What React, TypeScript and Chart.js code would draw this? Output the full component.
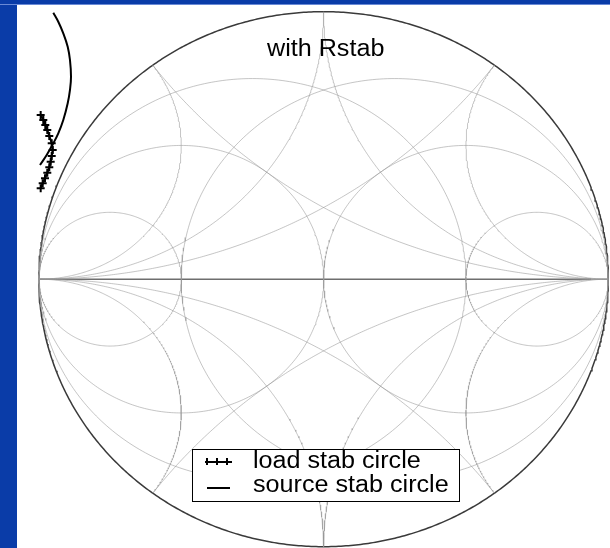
import React, { useEffect, useRef } from "react";
import { Chart, registerables } from "chart.js";

Chart.register(...registerables);

// Smith chart grid values (impedance + admittance overlay)
const resistanceValues = [1 / 3, 1, 3];
const reactanceValues = [0.5, 1, 2];
const conductanceValues = [1 / 3, 1, 3];
const susceptanceValues = [0.5, 1, 2];

// Source stability circle (reflection-coefficient plane), solid line
const sourceStabRe = [-0.9494, -0.9319, -0.9143, -0.8988, -0.8908, -0.8872, -0.8908, -0.8988, -0.9143, -0.9319, -0.9494, -0.9726, -0.9961];
const sourceStabIm = [0.9963, 0.9626, 0.9193, 0.8692, 0.8194, 0.757, 0.7073, 0.6576, 0.5951, 0.5454, 0.508, 0.4643, 0.4269];

// Load stability circle, drawn with "+" markers
const loadStabRe = [-0.9937, -0.9845, -0.9775, -0.9705, -0.9635, -0.955, -0.9515, -0.955, -0.9586, -0.9635, -0.9705, -0.9786, -0.9867, -0.9937];
const loadStabIm = [0.6138, 0.5951, 0.5764, 0.5578, 0.5353, 0.508, 0.483, 0.4606, 0.4393, 0.4183, 0.3981, 0.3772, 0.3585, 0.3398];

const titleText = "with Rstab";
const legendLabels = ["load stab circle", "source stab circle"];

const GRID_COLOR = "rgba(150,150,150,0.55)";
const AXIS_COLOR = "#6e6e6e";
const RIM_COLOR = "#3a3a3a";

type Pt = { x: number; y: number };

function circlePoints(cx: number, cy: number, rad: number, a0: number, a1: number, n = 360): Pt[] {
  const pts: Pt[] = [];
  for (let i = 0; i <= n; i++) {
    const a = a0 + ((a1 - a0) * i) / n;
    pts.push({ x: cx + rad * Math.cos(a), y: cy + rad * Math.sin(a) });
  }
  return pts;
}

// constant-reactance arc inside the unit circle (centre (1, 1/x), radius 1/x)
function reactanceArc(x: number): Pt[] {
  const cy = 1 / x;
  const rad = 1 / x;
  // where the arc meets the rim: Gamma = (jx-1)/(jx+1)
  const den = 1 + x * x;
  const ex = (x * x - 1) / den;
  const ey = (2 * x) / den;
  let end = Math.atan2(ey - cy, ex - 1);
  if (end > -Math.PI / 2) end -= 2 * Math.PI;
  return circlePoints(1, cy, rad, -Math.PI / 2, end, 240);
}

const mirrorY = (p: Pt[]) => p.map((q) => ({ x: q.x, y: -q.y }));
const mirrorX = (p: Pt[]) => p.map((q) => ({ x: -q.x, y: q.y }));
const zip = (re: number[], im: number[]) => re.map((v, i) => ({ x: v, y: im[i] }));

function gridDataset(data: Pt[], color = GRID_COLOR, width = 1) {
  return {
    data,
    showLine: true,
    pointRadius: 0,
    borderColor: color,
    borderWidth: width,
    tension: 0,
  };
}

function buildDatasets() {
  const ds: any[] = [];
  resistanceValues.forEach((r) => {
    ds.push(gridDataset(circlePoints(r / (1 + r), 0, 1 / (1 + r), 0, 2 * Math.PI)));
  });
  conductanceValues.forEach((g) => {
    ds.push(gridDataset(circlePoints(-g / (1 + g), 0, 1 / (1 + g), 0, 2 * Math.PI)));
  });
  reactanceValues.forEach((x) => {
    const arc = reactanceArc(x);
    ds.push(gridDataset(arc));
    ds.push(gridDataset(mirrorY(arc)));
  });
  susceptanceValues.forEach((b) => {
    const arc = mirrorX(reactanceArc(b));
    ds.push(gridDataset(arc));
    ds.push(gridDataset(mirrorY(arc)));
  });
  ds.push(gridDataset([{ x: 0.94, y: 0 }, { x: 1, y: 0 }]));
  ds.push(gridDataset([{ x: -1, y: 0 }, { x: 0.94, y: 0 }], AXIS_COLOR, 1.5));
  ds.push(gridDataset(circlePoints(0, 0, 1, 0, 2 * Math.PI, 720), RIM_COLOR, 1.5));

  ds.push({
    label: legendLabels[1],
    data: zip(sourceStabRe, sourceStabIm),
    showLine: true,
    pointRadius: 0,
    borderColor: "#000",
    borderWidth: 2,
    tension: 0.4,
  });
  ds.push({
    label: legendLabels[0],
    data: zip(loadStabRe, loadStabIm),
    showLine: true,
    pointStyle: "cross",
    pointRadius: 4,
    pointBorderWidth: 2,
    pointBorderColor: "#000",
    borderColor: "#000",
    borderWidth: 2,
    tension: 0.4,
  });
  return ds;
}

export default function App() {
  const canvasRef = useRef<HTMLCanvasElement | null>(null);

  useEffect(() => {
    if (!canvasRef.current) return;
    const chart = new Chart(canvasRef.current, {
      type: "scatter",
      data: { datasets: buildDatasets() },
      options: {
        animation: false,
        responsive: false,
        maintainAspectRatio: false,
        layout: { padding: 0, autoPadding: false },
        plugins: { legend: { display: false }, tooltip: { enabled: false }, title: { display: false } },
        scales: {
          x: { type: "linear", min: -1.0769, max: 1.006, display: false },
          y: { type: "linear", min: -1.0049, max: 1.025, display: false },
        },
      },
    });
    return () => chart.destroy();
  }, []);

  const font = "'Liberation Sans', Arial, sans-serif";
  const textStyle: React.CSSProperties = {
    position: "absolute",
    fontFamily: font,
    fontSize: 23.5,
    lineHeight: "23.5px",
    color: "#000",
    whiteSpace: "nowrap",
    transform: "scaleX(1.07)",
    transformOrigin: "left top",
  };

  return (
    <div style={{ position: "fixed", left: 0, top: 0, width: 610, height: 548, background: "#0a3ca8", overflow: "hidden" }}>
      <div style={{ position: "absolute", left: 0, top: 4, width: 610, height: 1, background: "#6a8ad6" }} />
      <div style={{ position: "absolute", left: 17, top: 5, width: 593, height: 543, background: "#fff" }}>
        <canvas ref={canvasRef} width={593} height={543} style={{ display: "block", width: 593, height: 543 }} />
        <div style={{ ...textStyle, left: 250, top: 32 }}>{titleText}</div>
        <div style={{ position: "absolute", left: 175, top: 444, width: 266, height: 51, border: "1px solid #000", background: "#fff" }}>
          {/* "+" marker sample */}
          <div style={{ position: "absolute", left: 12, top: 11, width: 27, height: 1.5, background: "#000" }} />
          {[14, 24, 34].map((lx) => (
            <div key={lx} style={{ position: "absolute", left: lx - 1, top: 8, width: 1.5, height: 7, background: "#000" }} />
          ))}
          {/* solid line sample */}
          <div style={{ position: "absolute", left: 14, top: 37, width: 23, height: 1.5, background: "#000" }} />
          <div style={{ ...textStyle, left: 60, top: -1 }}>{legendLabels[0]}</div>
          <div style={{ ...textStyle, left: 60, top: 23 }}>{legendLabels[1]}</div>
        </div>
      </div>
    </div>
  );
}
